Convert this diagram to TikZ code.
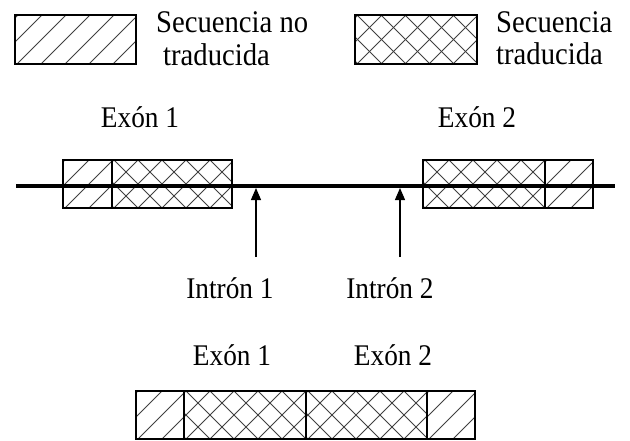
\documentclass[tikz,border=0pt]{standalone}
\usepackage{fontspec}
\setmainfont[FakeStretch=0.91]{Liberation Serif}
\usetikzlibrary{arrows.meta}
\newcommand\myuhatch[4]{%
  \begin{scope}
    \clip (#1,#2) rectangle (#3,#4);
    \pgfmathsetmacro\hh{#4-#2}
    \foreach \k in {0,24,...,240} {
      \draw[hatchln] (#1-70+\k,#4) -- ++(\hh,-\hh);
    }
  \end{scope}}
\newcommand\myxhatch[4]{%
  \begin{scope}
    \clip (#1,#2) rectangle (#3,#4);
    \pgfmathsetmacro\hh{#4-#2}
    \foreach \k in {0,24,...,240} {
      \draw[hatchln] (#1-70+\k,#4) -- ++(\hh,-\hh);
      \draw[hatchln] (#1-70+\k,#2) -- ++(\hh,\hh);
    }
  \end{scope}}
\begin{document}
\begin{tikzpicture}[x=1pt,y=-1pt,
  lbl/.style={inner sep=0pt,font=\fontsize{30}{32}\selectfont},
  leg/.style={inner sep=0pt,font=\fontsize{31.5}{33}\selectfont},
  hatchln/.style={line width=1pt, black!75},
  boxln/.style={line width=1.4pt, black},
  arr/.style={line width=1.2pt, -{Triangle[length=12pt,width=10pt]}}]
\useasboundingbox (0,0) rectangle (630,440);
\fill[white] (0,0) rectangle (630,440);

% legend
\myuhatch{15}{15}{136}{64}
\draw[boxln] (15,15) rectangle (136,64);
\node[leg,anchor=base west] (leg1a) at (156,32) {Secuencia no};
\node[leg,anchor=base west] (leg1b) at (163,65) {traducida};
\myxhatch{355}{15}{477}{64}
\draw[boxln] (355,15) rectangle (477,64);
\node[leg,anchor=base west] (leg2a) at (496,32) {Secuencia};
\node[leg,anchor=base west] (leg2b) at (496,64) {traducida};

% gene
\node[lbl,anchor=base] (ex1) at (140,127) {Exón 1};
\node[lbl,anchor=base] (ex2) at (477,127) {Exón 2};
\myuhatch{63}{160}{112}{208}
\myxhatch{112}{160}{232}{208}
\myxhatch{423}{160}{545}{208}
\myuhatch{545}{160}{593}{208}
\draw[boxln] (63,160) rectangle (112,208);
\draw[boxln] (112,160) rectangle (232,208);
\draw[boxln] (423,160) rectangle (545,208);
\draw[boxln] (545,160) rectangle (593,208);
\coordinate (gL) at (16,186);
\coordinate (gR) at (615,186);
\draw[line width=4pt] (gL) -- (gR);

\coordinate (i1top) at (256,188);
\coordinate (i1bot) at (256,257);
\coordinate (i2top) at (400,188);
\coordinate (i2bot) at (400,257);
\draw[arr] (i1bot) -- (i1top);
\draw[arr] (i2bot) -- (i2top);
\node[lbl,anchor=base] (in1) at (230,298) {Intrón 1};
\node[lbl,anchor=base] (in2) at (390,298) {Intrón 2};

% mRNA
\node[lbl,anchor=base] (m1) at (232,365) {Exón 1};
\node[lbl,anchor=base] (m2) at (393,365) {Exón 2};
\myuhatch{136}{391}{184}{439}
\myxhatch{184}{391}{306}{439}
\myxhatch{306}{391}{427}{439}
\myuhatch{427}{391}{475}{439}
\draw[boxln] (136,391) rectangle (184,439);
\draw[boxln] (184,391) rectangle (306,439);
\draw[boxln] (306,391) rectangle (427,439);
\draw[boxln] (427,391) rectangle (475,439);
\end{tikzpicture}
\end{document}
